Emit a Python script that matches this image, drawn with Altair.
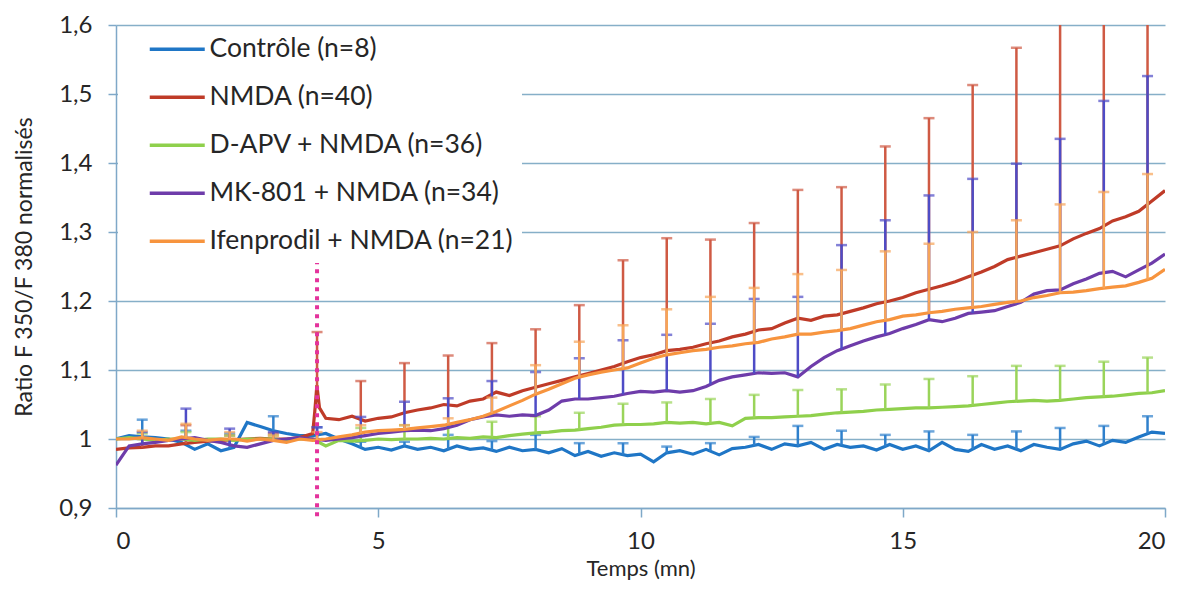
import altair as alt
import pandas as pd
import numpy as np

# ---------------- data ----------------
T = [i * 0.25 for i in range(81)]

CONTROLE = [1.000, 1.005, 1.003, 1.002, 1.000, 0.995, 0.985, 0.993, 0.983, 0.988,
            1.024, 1.018, 1.012, 1.008, 1.005, 1.005, 1.008, 1.000, 0.993, 0.985,
            0.988, 0.984, 0.990, 0.985, 0.988, 0.983, 0.990, 0.985, 0.987, 0.982,
            0.988, 0.983, 0.985, 0.980, 0.986, 0.976, 0.982, 0.975, 0.980, 0.976,
            0.978, 0.967, 0.980, 0.983, 0.978, 0.985, 0.977, 0.986, 0.988, 0.992,
            0.985, 0.993, 0.990, 0.995, 0.985, 0.992, 0.988, 0.990, 0.984, 0.992,
            0.985, 0.990, 0.983, 0.995, 0.985, 0.982, 0.992, 0.985, 0.990, 0.983,
            0.992, 0.988, 0.985, 0.993, 0.997, 0.990, 0.998, 0.995, 1.003, 1.010,
            1.008]

NMDA = [0.985, 0.987, 0.988, 0.990, 0.990, 0.993, 0.995, 0.997, 0.998, 0.999,
        1.000, 1.001, 1.000, 1.000, 1.002, 1.008, 1.030, 1.028, 1.033, 1.026,
        1.030, 1.032, 1.038, 1.042, 1.045, 1.050, 1.048, 1.055, 1.058, 1.068,
        1.063, 1.070, 1.075, 1.080, 1.085, 1.090, 1.095, 1.100, 1.105, 1.112,
        1.118, 1.122, 1.128, 1.130, 1.133, 1.138, 1.142, 1.148, 1.152, 1.158,
        1.160, 1.168, 1.175, 1.172, 1.178, 1.180, 1.185, 1.190, 1.196, 1.200,
        1.205, 1.212, 1.217, 1.222, 1.228, 1.235, 1.242, 1.250, 1.260, 1.265,
        1.270, 1.275, 1.280, 1.290, 1.298, 1.305, 1.316, 1.322, 1.330, 1.345,
        1.360]
NMDA_SPIKE_T = [3.79, 3.83, 3.88]
NMDA_SPIKE_Y = [1.040, 1.078, 1.045]

DAPV = [1.000, 1.002, 1.000, 0.998, 1.000, 1.000, 0.998, 1.000, 1.000, 0.998,
        1.000, 1.000, 1.000, 0.998, 1.000, 1.000, 0.990, 0.998, 0.997, 0.998,
        1.000, 0.999, 1.000, 1.000, 1.001, 1.000, 1.002, 1.001, 1.003, 1.002,
        1.005, 1.007, 1.009, 1.010, 1.012, 1.013, 1.015, 1.017, 1.020, 1.021,
        1.021, 1.022, 1.024, 1.023, 1.024, 1.022, 1.024, 1.019, 1.030, 1.031,
        1.031, 1.032, 1.033, 1.034, 1.036, 1.038, 1.039, 1.040, 1.042, 1.043,
        1.044, 1.045, 1.045, 1.046, 1.047, 1.048, 1.050, 1.052, 1.054, 1.055,
        1.056, 1.055, 1.056, 1.058, 1.060, 1.061, 1.062, 1.064, 1.066, 1.067,
        1.070]

MK801 = [0.962, 0.990, 0.993, 0.995, 0.998, 1.000, 1.002, 0.998, 0.995, 0.990,
         0.988, 0.993, 0.998, 1.000, 1.002, 1.000, 0.998, 1.000, 1.002, 1.005,
         1.008, 1.010, 1.012, 1.013, 1.012, 1.015, 1.020, 1.028, 1.032, 1.035,
         1.033, 1.035, 1.034, 1.042, 1.055, 1.058, 1.058, 1.060, 1.062, 1.066,
         1.069, 1.068, 1.070, 1.068, 1.070, 1.076, 1.085, 1.090, 1.093, 1.096,
         1.095, 1.096, 1.090, 1.105, 1.118, 1.128, 1.135, 1.142, 1.148, 1.153,
         1.160, 1.166, 1.173, 1.170, 1.175, 1.182, 1.184, 1.186, 1.192, 1.198,
         1.210, 1.215, 1.216, 1.225, 1.232, 1.240, 1.243, 1.235, 1.245, 1.255,
         1.268]

IFEN = [1.000, 1.000, 1.002, 1.000, 0.998, 1.003, 1.000, 0.998, 1.000, 1.000,
        0.997, 1.000, 0.998, 0.995, 1.000, 0.998, 1.000, 1.003, 1.006, 1.010,
        1.012, 1.013, 1.014, 1.016, 1.018, 1.020, 1.024, 1.028, 1.033, 1.040,
        1.048, 1.056, 1.065, 1.072, 1.080, 1.088, 1.093, 1.097, 1.100, 1.103,
        1.110, 1.117, 1.122, 1.125, 1.128, 1.130, 1.133, 1.135, 1.138, 1.140,
        1.145, 1.148, 1.152, 1.152, 1.155, 1.157, 1.160, 1.165, 1.170, 1.173,
        1.178, 1.180, 1.183, 1.185, 1.188, 1.190, 1.192, 1.195, 1.198, 1.200,
        1.205, 1.208, 1.212, 1.213, 1.215, 1.218, 1.220, 1.222, 1.227, 1.233,
        1.246]

# error bars (upper only), every 50 s
BAR_T = [0.5, 1.333, 2.167, 3.0, 3.833, 4.667, 5.5, 6.333, 7.167, 8.0, 8.833, 9.667,
         10.5, 11.333, 12.167, 13.0, 13.833, 14.667, 15.5, 16.333, 17.167, 18.0, 18.833, 19.667]
CAP_CONTROLE = [1.028, 1.012, 1.008, 1.033, 1.017, 0.996, 0.996, 1.006, 0.997, 1.006, 0.994, 0.994,
                0.989, 0.994, 1.003, 1.019, 1.012, 1.006, 1.011, 1.006, 1.011, 1.016, 1.019, 1.033]
CAP_NMDA = [1.000, 1.020, 1.005, 1.008, 1.155, 1.084, 1.110, 1.121, 1.139, 1.159, 1.194, 1.259,
            1.291, 1.289, 1.313, 1.361, 1.365, 1.424, 1.465, 1.513, 1.567, 1.680, 1.720, 1.750]
CAP_DAPV = [1.008, 1.010, 1.005, 1.005, 1.000, 1.016, 1.020, 1.020, 1.025, 1.033, 1.038, 1.051,
            1.053, 1.058, 1.064, 1.071, 1.072, 1.079, 1.087, 1.091, 1.106, 1.106, 1.112, 1.118]
CAP_MK801 = [1.010, 1.044, 1.015, 1.010, 1.017, 1.032, 1.054, 1.059, 1.084, 1.097, 1.117, 1.143,
             1.151, 1.167, 1.203, 1.206, 1.281, 1.317, 1.353, 1.377, 1.399, 1.435, 1.490, 1.526]
CAP_IFEN = [1.012, 1.022, 1.010, 1.005, 1.010, 1.020, 1.020, 1.030, 1.060, 1.107, 1.141, 1.165,
            1.188, 1.206, 1.219, 1.239, 1.245, 1.272, 1.283, 1.300, 1.317, 1.340, 1.358, 1.384]

NAMES = ["Contrôle (n=8)", "NMDA (n=40)", "D-APV + NMDA (n=36)",
         "MK-801 + NMDA (n=34)", "Ifenprodil + NMDA (n=21)"]
LINE_COLORS = ["#1F76C6", "#BF3B28", "#8FD04C", "#6E3CAA", "#F7943E"]
BAR_COLORS = ["#2F80CC", "#CF5A44", "#9AD45A", "#4E4CC6", "#F6A458"]

MARKER_T = 3.833
MARKER_Y = [0.888, 1.262]

Y_TICKS = [0.9, 1.0, 1.1, 1.2, 1.3, 1.4, 1.5, 1.6]
X_TICKS = [0, 5, 10, 15, 20]

# ---------------- build ----------------
series_vals = [CONTROLE, NMDA, DAPV, MK801, IFEN]
caps = [CAP_CONTROLE, CAP_NMDA, CAP_DAPV, CAP_MK801, CAP_IFEN]

FONT = "Lato"
TXT = "#262626"
GRID = "#86AFC8"
AXC = "#7FA8C8"
xscale = alt.Scale(domain=[0, 20], nice=False, zero=False)
yscale = alt.Scale(domain=[0.9, 1.6], nice=False, zero=False)
cscale = alt.Scale(domain=NAMES, range=LINE_COLORS)

xaxis = alt.Axis(values=X_TICKS, grid=False, tickSize=9, tickWidth=1.5, tickColor=AXC,
                 domainColor=AXC, domainWidth=1.5, labelFontSize=24, labelFont=FONT,
                 labelColor=TXT, labelPadding=12, title="Temps (mn)", titleFont=FONT,
                 titleFontSize=22, titleFontWeight="normal", titleColor=TXT, titlePadding=5)
yaxis = alt.Axis(values=Y_TICKS, grid=True, gridColor=GRID, gridWidth=1.5, tickSize=8,
                 tickWidth=1.5, tickColor=AXC, domainColor=AXC, domainWidth=1.5,
                 labelFontSize=24, labelFont=FONT, labelColor=TXT, labelPadding=16,
                 labelExpr="abs(datum.value-1)<0.001 ? '1' : replace(format(datum.value, '.1f'), '.', ',')",
                 title="Ratio F 350/F 380 normalisés", titleFont=FONT, titleFontSize=23,
                 titleFontWeight="normal", titleColor=TXT, titlePadding=22)

# legend box: blank title on the left widens the white box over the gridlines
legend = alt.Legend(orient="none", legendX=2, legendY=3, title="\u00a0", titleOrient="left",
                    titleFontSize=8, titlePadding=38,
                    symbolType="M-2.5,0H2.5", symbolSize=484, symbolStrokeWidth=3.5,
                    labelFontSize=26.5, labelFont=FONT, labelColor=TXT,
                    labelExpr="datum.label + '\u00a0\u00a0\u00a0\u00a0\u00a0'",
                    labelOffset=19, rowPadding=21, padding=8,
                    fillColor="white", labelLimit=600)

layers = []
for i, name in enumerate(NAMES):
    vals = series_vals[i]
    tt = list(T)
    yy = list(vals)
    if name.startswith("NMDA"):
        tt = tt + NMDA_SPIKE_T
        yy = yy + NMDA_SPIKE_Y
    df = pd.DataFrame({"t": tt, "y": yy, "series": name}).sort_values("t")
    base = np.interp(BAR_T, df["t"].values, df["y"].values)
    bdf = pd.DataFrame({"t": BAR_T, "lo": base, "hi": caps[i], "series": name})

    line = alt.Chart(df).mark_line(strokeWidth=3.2, clip=True).encode(
        x=alt.X("t:Q", scale=xscale, axis=xaxis),
        y=alt.Y("y:Q", scale=yscale, axis=yaxis),
        color=alt.Color("series:N", scale=cscale, legend=legend),
        order="t:Q",
    )
    rule = alt.Chart(bdf).mark_rule(strokeWidth=2.5, color=BAR_COLORS[i], clip=True).encode(
        x=alt.X("t:Q", scale=xscale, axis=xaxis),
        y=alt.Y("lo:Q", scale=yscale, axis=yaxis), y2="hi:Q")
    tick = alt.Chart(bdf).mark_tick(orient="horizontal", size=11, thickness=2.5,
                                    color=BAR_COLORS[i], clip=True).encode(
        x=alt.X("t:Q", scale=xscale, axis=xaxis),
        y=alt.Y("hi:Q", scale=yscale, axis=yaxis))
    layers += [line, rule, tick]

mdf = pd.DataFrame({"t": [MARKER_T, MARKER_T], "y": MARKER_Y})
marker = alt.Chart(mdf).mark_line(color="#E4329C", strokeWidth=4, strokeDash=[4, 5],
                                  clip=False).encode(
    x=alt.X("t:Q", scale=xscale, axis=xaxis),
    y=alt.Y("y:Q", scale=yscale, axis=yaxis))
layers.append(marker)

chart = alt.layer(*layers).properties(
    width=1049, height=483,
    autosize=alt.AutoSizeParams(type="none"),
    padding={"left": 108, "top": 17, "right": 8, "bottom": 75},
).configure(background="white").configure_view(stroke=None)

chart.save("out.html", embed_options={"renderer": "svg", "actions": False})
